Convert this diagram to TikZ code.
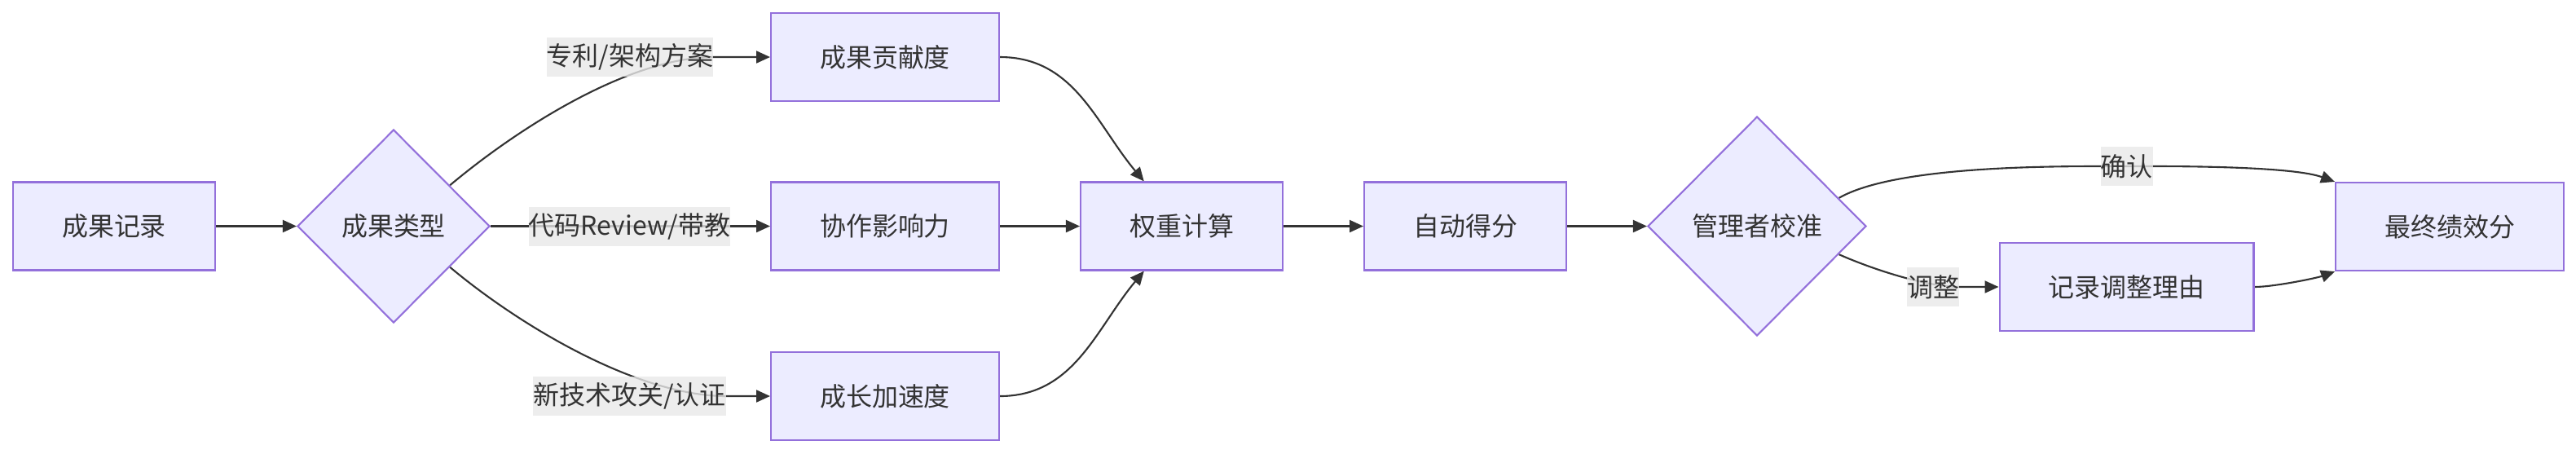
\documentclass[tikz,border=0pt]{standalone}
\usepackage{fontspec}
\setmainfont{Noto Sans CJK SC}
\usetikzlibrary{arrows.meta,shapes.geometric,backgrounds}
\definecolor{mmfill}{HTML}{ECECFF}
\definecolor{mmline}{HTML}{9370DB}
\definecolor{ink}{HTML}{333333}
\definecolor{tagbg}{HTML}{E8E8E8}

\begin{document}
\begin{tikzpicture}[
  font=\fontsize{9.1pt}{11pt}\selectfont,
  stage/.style={
    rectangle, draw=mmline, fill=mmfill, line width=0.6pt,
    text=ink, minimum height=1.08cm, inner xsep=0.6cm
  },
  choice/.style={
    diamond, aspect=1, draw=mmline, fill=mmfill,
    line width=0.6pt, text=ink, inner sep=0pt
  },
  tag/.style={fill=tagbg, fill opacity=0.8, text opacity=1, text=ink,
    inner sep=0pt, minimum height=0.48cm},
  arrow/.style={-{Triangle[length=0.17cm,width=0.15cm]}, line width=0.6pt, ink}
]
\useasboundingbox (0,0) rectangle (31.61,-5.56);

% Input and achievement type
\node[stage] (record) at (1.40,-2.775) {成果记录};
\node[choice, minimum width=2.36cm, minimum height=2.37cm]
  (kind) at (4.83,-2.775) {成果类型};

% Three scoring dimensions
\node[stage] (contrib) at (10.86,-0.70) {成果贡献度};
\node[stage] (collab)  at (10.86,-2.775) {协作影响力};
\node[stage] (growth)  at (10.86,-4.86) {成长加速度};

% Edge labels on the branches
\node[tag] (lpat) at (7.73,-0.70) {专利/架构方案};
\node[tag] (lrev) at (7.725,-2.775) {代码Review/带教};
\node[tag] (lnew) at (7.725,-4.86) {新技术攻关/认证};

% Scoring chain
\node[stage] (weight) at (14.50,-2.775) {权重计算};
\node[stage] (score)  at (17.98,-2.775) {自动得分};
\node[choice, minimum width=2.68cm, minimum height=2.69cm]
  (calib) at (21.56,-2.775) {管理者校准};

% Calibration outcome
\node[stage] (reason) at (26.095,-3.52) {记录调整理由};
\node[stage] (final)  at (30.06,-2.78) {最终绩效分};
\node[tag] (lconf) at (26.095,-2.04) {确认};
\node[tag] (ladj)  at (23.72,-3.52) {调整};

% Connectors, kept under the labels
\begin{pgfonlayer}{background}
\draw[arrow] (record.east) -- (kind.west);
\draw[arrow] (kind.36) to[out=40,in=180,looseness=0.75] (lpat.east) -- (contrib.west);
\draw[arrow] (kind.east) -- (collab.west);
\draw[arrow] (kind.-36) to[out=-40,in=180,looseness=0.75] (lnew.east) -- (growth.west);

\draw[arrow] (contrib.east) to[out=0,in=130] (weight.130);
\draw[arrow] (collab.east) -- (weight.west);
\draw[arrow] (growth.east) to[out=0,in=-130] (weight.-130);
\draw[arrow] (weight.east) -- (score.west);
\draw[arrow] (score.east) -- (calib.west);

\draw[arrow] (calib.19) to[out=30,in=180,looseness=0.6] (lconf.west)
  -- (lconf.east) to[out=0,in=160,looseness=0.6] (final.north west);
\draw[arrow] (calib.-19) to[out=-24,in=180,looseness=0.7] (ladj.east) -- (reason.west);
\draw[arrow] (reason.east) to[out=0,in=200,looseness=0.6] (final.south west);
\end{pgfonlayer}

\end{tikzpicture}
\end{document}
